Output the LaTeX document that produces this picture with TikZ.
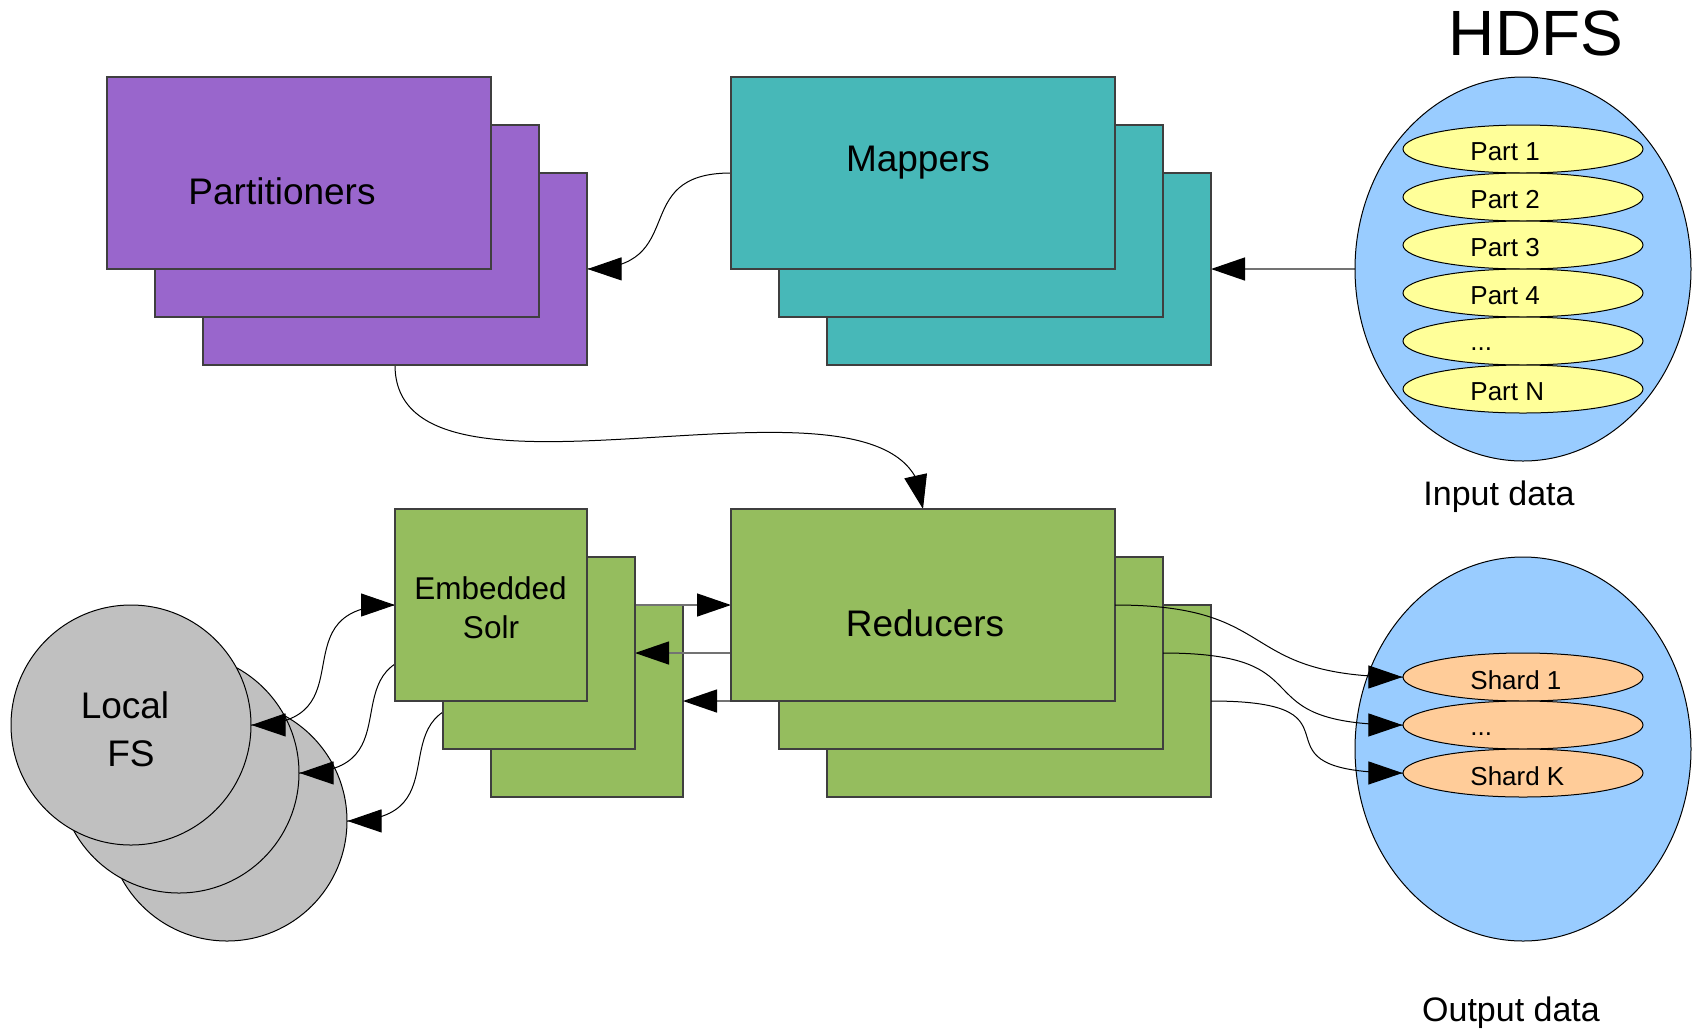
\documentclass[tikz,border=0pt]{standalone}
\usepackage{fontspec}
\setmainfont{Liberation Sans}
\usetikzlibrary{arrows.meta,bending,shapes.geometric,decorations.markings}
\pgfdeclarelayer{bg}
\pgfdeclarelayer{midlayer}
\pgfdeclarelayer{toplayer}
\pgfsetlayers{bg,midlayer,main,toplayer}
\definecolor{cpurple}{HTML}{9966CC}
\definecolor{cteal}{HTML}{47B8B8}
\definecolor{cgreen}{HTML}{95BD5E}
\definecolor{cgray}{HTML}{C0C0C0}
\definecolor{cblue}{HTML}{99CCFF}
\definecolor{cyellow}{HTML}{FFFF99}
\definecolor{corange}{HTML}{FFCC99}
\definecolor{cedge}{HTML}{3F3F3F}
\begin{document}
\begin{tikzpicture}[x=0.5pt,y=-0.5pt,
  >={Triangle[length=17pt,width=11.5pt,color=black]},
  widebox/.style={draw=cedge,line width=0.75pt,inner sep=0pt,outer sep=0pt,minimum width=192pt,minimum height=96pt},
  sqbox/.style={draw=cedge,line width=0.75pt,inner sep=0pt,outer sep=0pt,minimum width=96pt,minimum height=96pt},
  disk/.style={circle,draw=black,line width=0.5pt,fill=cgray,inner sep=0pt,outer sep=0pt,minimum size=120pt},
  store/.style={ellipse,draw=black,line width=0.5pt,fill=cblue,inner sep=0pt,outer sep=0pt,minimum width=168pt,minimum height=192pt},
  piece/.style={ellipse,draw=black,line width=0.5pt,inner sep=0pt,outer sep=0pt,minimum width=120pt,minimum height=24pt},
  btext/.style={inner sep=0pt,anchor=base,font=\fontsize{18.5pt}{22pt}\selectfont},
  mtext/.style={inner sep=0pt,anchor=base,font=\fontsize{15.75pt}{19pt}\selectfont},
  ptext/.style={inner sep=0pt,anchor=base west,font=\fontsize{13pt}{15pt}\selectfont},
  captext/.style={inner sep=0pt,anchor=base,font=\fontsize{17pt}{20pt}\selectfont},
  conn/.style={line width=0.5pt,->},
  curv/.style={line width=0.5pt,postaction={decorate,decoration={markings,mark=at position -0.3pt with {\arrow{>}}}}},
  curvboth/.style={line width=0.5pt,postaction={decorate,decoration={markings,mark=at position 0 with {\arrowreversed{>}},mark=at position -0.3pt with {\arrow{>}}}}},
  straight/.style={draw=black!55,line width=0.7pt,->}]
\useasboundingbox (0,0) rectangle (1698,1030);

% Local FS disks and rear Solr box
\begin{pgfonlayer}{bg}
\node[disk] (c3) at (227,821) {};
\node[disk] (c2) at (179,773) {};
\node[disk] (c1) at (131,725) {};
\node[sqbox,fill=cgreen] (s3) at (587,701) {};
\end{pgfonlayer}
\node[btext] (lfs1) at (125,718.5) {Local};
\node[btext] (lfs2) at (131,766) {FS};

% Partitioners
\node[widebox,fill=cpurple] (p3) at (395,269) {};
\node[widebox,fill=cpurple] (p2) at (347,221) {};
\node[widebox,fill=cpurple] (p1) at (299,173) {};
\node[btext] (pl) at (282,204.5) {Partitioners};

% Mappers
\node[widebox,fill=cteal] (m3) at (1019,269) {};
\node[widebox,fill=cteal] (m2) at (971,221) {};
\node[widebox,fill=cteal] (m1) at (923,173) {};
\node[btext] (ml) at (918,171.5) {Mappers};

% Reducers
\node[widebox,fill=cgreen] (r3) at (1019,701) {};
\node[widebox,fill=cgreen] (r2) at (971,653) {};
\node[widebox,fill=cgreen] (r1) at (923,605) {};
\node[btext] (rl) at (925,636) {Reducers};

% Embedded Solr
\node[sqbox,fill=cgreen] (s2) at (539,653) {};
\node[sqbox,fill=cgreen] (s1) at (491,605) {};
\node[mtext] (sl1) at (490.5,599) {Embedded};
\node[mtext] (sl2) at (491,638) {Solr};

% HDFS input
\node[inner sep=0pt,anchor=base,font=\fontsize{32pt}{36pt}\selectfont] (hl) at (1536,55) {HDFS};
\node[store] (hin) at (1523,269) {};
\node[piece,fill=cyellow] (pt1) at (1523,149) {};
\node[piece,fill=cyellow] (pt2) at (1523,197) {};
\node[piece,fill=cyellow] (pt3) at (1523,245) {};
\node[piece,fill=cyellow] (pt4) at (1523,293) {};
\node[piece,fill=cyellow] (pt5) at (1523,341) {};
\node[piece,fill=cyellow] (pt6) at (1523,389) {};
\node[ptext] (ptl1) at (1470,160) {Part 1};
\node[ptext] (ptl2) at (1470,208) {Part 2};
\node[ptext] (ptl3) at (1470,256) {Part 3};
\node[ptext] (ptl4) at (1470,304) {Part 4};
\node[ptext] (ptl5) at (1470,350) {...};
\node[ptext] (ptl6) at (1470,400) {Part N};
\node[captext] (il) at (1499,505) {Input data};

% HDFS output
\node[store] (hout) at (1523,749) {};
\node[piece,fill=corange] (sh1) at (1523,677) {};
\node[piece,fill=corange] (sh2) at (1523,725) {};
\node[piece,fill=corange] (sh3) at (1523,773) {};
\node[ptext] (shl1) at (1470,689) {Shard 1};
\node[ptext] (shl2) at (1470,735) {...};
\node[ptext] (shl3) at (1470,785) {Shard K};
\node[captext] (ol) at (1511,1021) {Output data};

% connectors behind boxes
\begin{pgfonlayer}{midlayer}
\draw[straight] (hin.west) -- (m3.east);
\draw[curv] (m1.west) .. controls +(-105,0) and +(105,0) .. (p3.east);
\draw[conn] (p3.south) .. controls +(0,176) and +(0,-176) .. (r1.north);
\draw[straight] (s1.east) -- (r1.west);
\draw[straight] (r2.west) -- (s2.east);
\draw[straight] (r3.west) -- (s3.east);
\draw[curvboth] (s1.west) .. controls +(-122,0) and +(122,0) .. (c1.east);
\draw[curv] (s2.west) .. controls +(-122,0) and +(122,0) .. (c2.east);
\draw[curv] (s3.west) .. controls +(-122,0) and +(122,0) .. (c3.east);
\end{pgfonlayer}

% connectors on top
\begin{pgfonlayer}{toplayer}
\draw[curv] (r1.east) .. controls +(170,0) and +(-170,0) .. (sh1.west);
\draw[curv] (r2.east) .. controls +(170,0) and +(-170,0) .. (sh2.west);
\draw[curv] (r3.east) .. controls +(170,0) and +(-170,0) .. (sh3.west);
\end{pgfonlayer}
\end{tikzpicture}
\end{document}
